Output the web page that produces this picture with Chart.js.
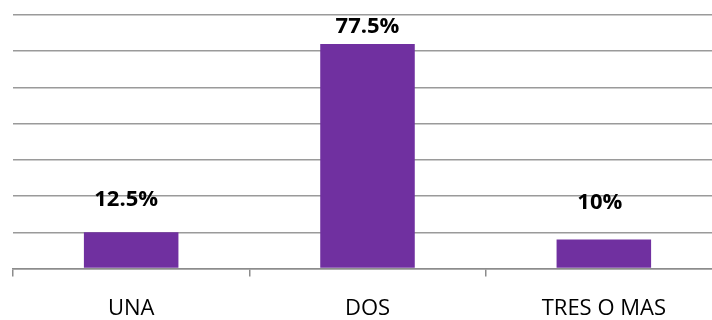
<!DOCTYPE html>
<html>
<head>
<meta charset="utf-8">
<script src="https://cdn.jsdelivr.net/npm/chart.js@4/dist/chart.umd.min.js"></script>
<style>
  html, body { margin: 0; padding: 0; background: #fff; overflow: hidden; }
  #wrap { width: 724px; height: 341px; }
</style>
</head>
<body>
<div id="wrap"><canvas id="chart"></canvas></div>
<script>
// chart data
const categories = ['UNA', 'DOS', 'TRES O MAS'];
const percentValues = [12.5, 77.5, 10];
const valueLabels = ['12.5%', '77.5%', '10%'];

// draws the bold % labels above each bar
const barLabels = {
  id: 'barLabels',
  afterDatasetsDraw(chart, args, opts) {
    const ctx = chart.ctx;
    const meta = chart.getDatasetMeta(0);
    ctx.save();
    ctx.font = 'bold 22px "Open Sans", "Liberation Sans", sans-serif';
    ctx.fillStyle = '#000';
    ctx.textAlign = 'center';
    ctx.textBaseline = 'middle';
    meta.data.forEach((bar, i) => {
      const gap = opts.gaps[i];
      ctx.fillText(valueLabels[i], bar.x + opts.shiftX[i], bar.y - gap);
    });
    ctx.restore();
  }
};

const ctx = document.getElementById('chart').getContext('2d');
new Chart(ctx, {
  type: 'bar',
  data: {
    labels: categories,
    datasets: [{
      data: percentValues,
      backgroundColor: '#7030A0',
      borderWidth: 0,
      barPercentage: 0.4,
      categoryPercentage: 1
    }]
  },
  options: {
    responsive: true,
    maintainAspectRatio: false,
    animation: false,
    layout: { padding: { left: 13, right: 2, top: 15, bottom: 0 } },
    plugins: {
      legend: { display: false },
      tooltip: { enabled: false },
      barLabels: { gaps: [33, 17, 37], shiftX: [-5, 0, -4] }
    },
    scales: {
      x: {
        grid: {
          offset: true,
          drawOnChartArea: false,
          drawTicks: true,
          tickLength: 8,
          color: '#8c8c8c',
          lineWidth: 1.5
        },
        border: { display: true, color: '#8c8c8c', width: 1.5 },
        ticks: {
          color: '#000',
          padding: 19,
          font: { family: '"Open Sans", "Liberation Sans", sans-serif', size: 22 }
        }
      },
      y: {
        min: 0,
        max: 87.5,
        ticks: { display: false, stepSize: 12.5 },
        grid: { color: '#9a9a9a', lineWidth: 1.5, drawTicks: false },
        border: { display: false }
      }
    }
  },
  plugins: [barLabels]
});
</script>
</body>
</html>
